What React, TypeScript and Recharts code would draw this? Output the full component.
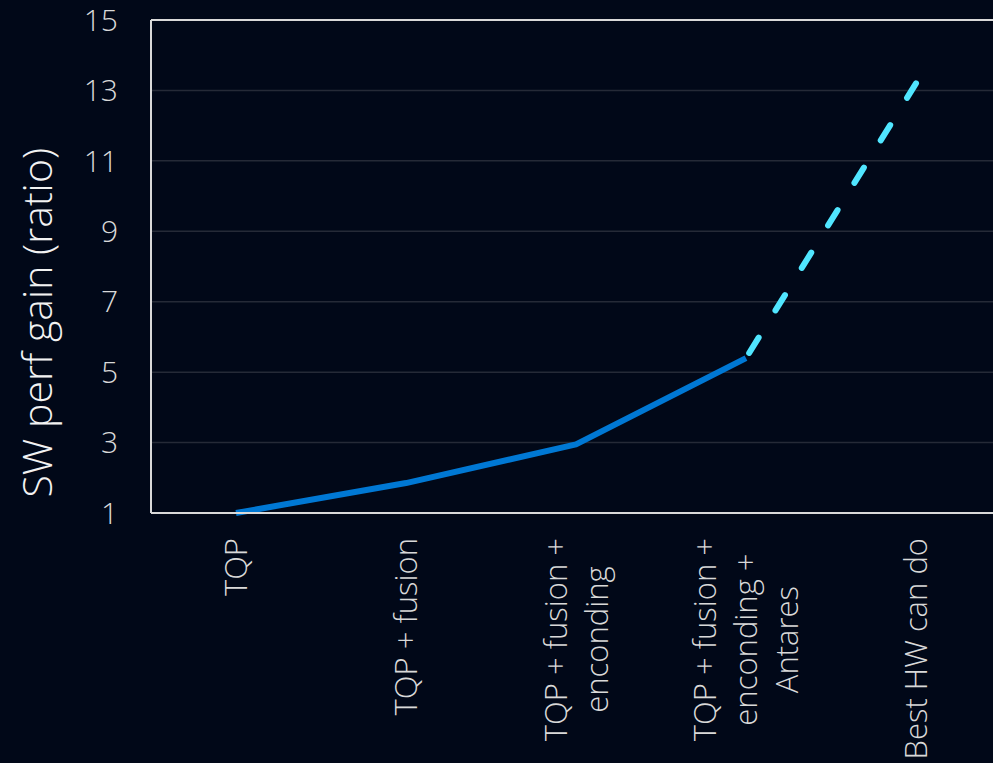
import { ComposedChart, Line, XAxis, YAxis, CartesianGrid, ReferenceLine } from "recharts";

const categories = [
  "TQP",
  "TQP + fusion",
  "TQP + fusion +\nenconding",
  "TQP + fusion +\nenconding +\nAntares",
  "Best HW can do",
];
const measured: (number | null)[] = [1, 1.85, 2.95, 5.4, null];
const projected: (number | null)[] = [null, null, null, 5.4, 13.2];
const yTicks = [1, 3, 5, 7, 9, 11, 13, 15];

const BG = "#010818";
const AXIS = "#D9D9D9";
const FONT = '"Open Sans", "Noto Sans", sans-serif';
const WEIGHT = 300;
const TICK_SIZE = 30;
const CAT_SIZE = 31;

const rows = categories.map((name, i) => ({
  name,
  measured: measured[i],
  projected: projected[i],
}));

let ctx: CanvasRenderingContext2D | null = null;
function textWidth(s: string): number {
  if (!ctx) ctx = document.createElement("canvas").getContext("2d");
  if (!ctx) return s.length * CAT_SIZE * 0.5;
  ctx.font = `${WEIGHT} ${CAT_SIZE}px ${FONT}`;
  return ctx.measureText(s).width;
}

// rotated, multi-line category label; lines centred on the longest one
function CatTick(props: any) {
  const { x, y, payload } = props;
  const lines = String(payload.value).split("\n");
  const w = Math.max(...lines.map(textWidth));
  const lh = 41;
  const mid = -(25 + w / 2);
  return (
    <g transform={`translate(${x},${y}) rotate(-90)`}>
      {lines.map((ln, i) => (
        <text
          key={i}
          x={mid}
          y={(i - (lines.length - 1) / 2) * lh}
          dy="0.36em"
          textAnchor="middle"
          fill={AXIS}
          fontSize={CAT_SIZE}
          fontWeight={WEIGHT}
          fontFamily={FONT}
        >
          {ln}
        </text>
      ))}
    </g>
  );
}

function YTitle(props: any) {
  const vb = props.viewBox || { x: 0, y: 20, width: 151, height: 493 };
  const cx = vb.x + 52;
  const cy = vb.y + vb.height * 0.614;
  return (
    <text
      x={cx}
      y={cy}
      transform={`rotate(-90 ${cx} ${cy})`}
      textAnchor="middle"
      fill="#F2F2F2"
      fontSize={41}
      fontWeight={WEIGHT}
      fontFamily={FONT}
    >
      SW perf gain (ratio)
    </text>
  );
}

export default function App() {
  return (
    <div style={{ width: 993, height: 763, overflow: "hidden", background: BG, position: "relative" }}>
      <style>{`body{margin:0;background:${BG}}`}</style>
      <ComposedChart width={1001} height={763} data={rows} margin={{ top: 20, right: 0, left: 0, bottom: 0 }}>
        <CartesianGrid vertical={false} stroke="#252A37" strokeWidth={1.5} />
        <XAxis
          dataKey="name"
          height={250}
          interval={0}
          padding={{ left: 85, right: 85 }}
          tickLine={false}
          tickSize={0}
          tickMargin={0}
          axisLine={{ stroke: AXIS, strokeWidth: 2 }}
          tick={<CatTick />}
        />
        <YAxis
          type="number"
          domain={[1, 15]}
          ticks={yTicks}
          width={151}
          tickLine={false}
          tickSize={0}
          tickMargin={33}
          axisLine={{ stroke: AXIS, strokeWidth: 2 }}
          tick={{ fill: AXIS, fontSize: TICK_SIZE, fontWeight: WEIGHT, fontFamily: FONT }}
          label={<YTitle />}
        />
        <ReferenceLine y={15} stroke={AXIS} strokeWidth={2} />
        <Line
          type="linear"
          dataKey="projected"
          stroke="#50E6FF"
          strokeWidth={6}
          strokeDasharray="18 32"
          strokeDashoffset={44}
          strokeLinecap="round"
          dot={false}
          activeDot={false}
          isAnimationActive={false}
        />
        <Line
          type="linear"
          dataKey="measured"
          stroke="#0078D4"
          strokeWidth={6}
          strokeLinejoin="round"
          dot={false}
          activeDot={false}
          isAnimationActive={false}
        />
      </ComposedChart>
    </div>
  );
}
